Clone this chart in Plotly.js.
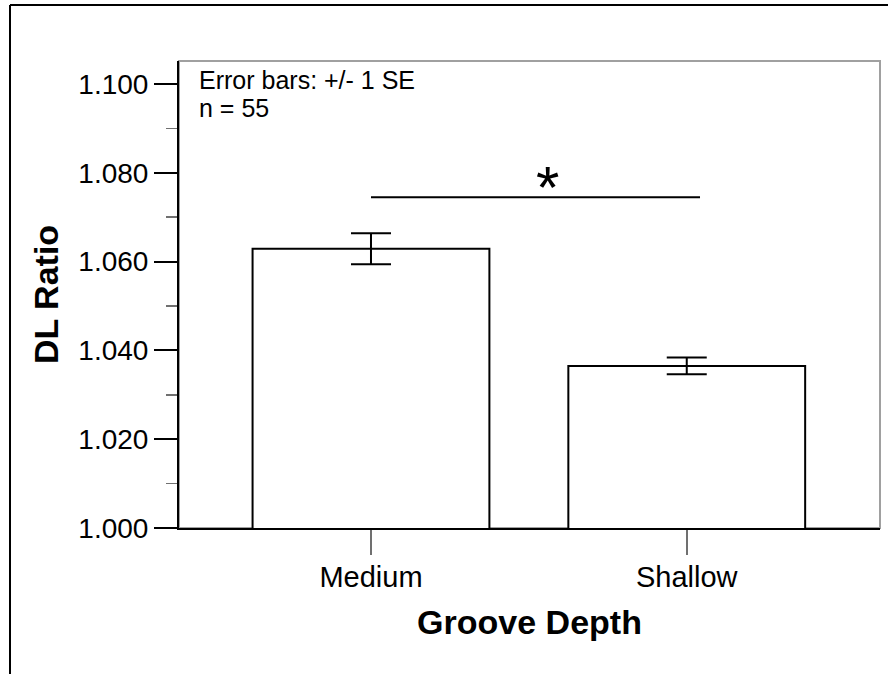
<!DOCTYPE html>
<html>
<head>
<meta charset="utf-8">
<script src="https://cdn.plot.ly/plotly-3.0.1.min.js"></script>
<style>
html,body{margin:0;padding:0;background:#fff;}
#chart{width:888px;height:674px;}
</style>
</head>
<body>
<div id="chart"></div>
<script>
// ---- data ----
const categories = ["Medium", "Shallow"];
const meanRatio = [1.0629, 1.0365];
const seRatio = [0.0035, 0.0019];
const sampleSize = 55;
const sigLineY = 1.0745;          // significance bracket level
const yTickValues = [1.000, 1.020, 1.040, 1.060, 1.080, 1.100];
const yTickLabels = ["1.000", "1.020", "1.040", "1.060", "1.080", "1.100"];

const FONT = "Liberation Sans, Arial, Helvetica, sans-serif";

const trace = {
  type: "bar",
  x: categories,
  y: meanRatio,
  width: 0.75,
  marker: {color: "#ffffff", line: {color: "#000000", width: 2}},
  error_y: {type: "data", array: seRatio, visible: true, color: "#000000", thickness: 2, width: 20},
  hoverinfo: "x+y"
};

// plot area geometry (for paper-space frame)
const W = 888, H = 674, ml = 179, mr = 8, mt = 61, mb = 146;
const pw = W - ml - mr, ph = H - mt - mb;
const px = v => (v - ml) / pw;
const py = v => (H - mb - v) / ph;

const layout = {
  width: W, height: H,
  margin: {l: ml, r: mr, t: mt, b: mb, pad: 0},
  paper_bgcolor: "#ffffff",
  plot_bgcolor: "#ffffff",
  showlegend: false,
  font: {family: FONT, color: "#000000"},
  xaxis: {
    type: "category",
    range: [-0.608, 1.612],
    showline: true, linecolor: "#000000", linewidth: 2,
    ticks: "outside", ticklen: 25, tickwidth: 2, tickcolor: "#707070",
    ticklabelstandoff: -3,
    tickfont: {family: FONT, size: 29, color: "#000000"},
    showgrid: false, zeroline: false,
    title: {text: "Groove Depth", font: {family: FONT, size: 34, color: "#000000", weight: "bold"}, standoff: 18},
    fixedrange: true
  },
  yaxis: {
    range: [1.0, 1.10517],
    tickvals: yTickValues,
    ticktext: yTickLabels,
    showline: true, linecolor: "#000000", linewidth: 2,
    ticks: "outside", ticklen: 23, tickwidth: 2, tickcolor: "#000000",
    tickfont: {family: FONT, size: 28, color: "#000000"},
    minor: {dtick: 0.01, tick0: 1.0, ticks: "outside", ticklen: 11, tickwidth: 1.5, tickcolor: "#707070"},
    showgrid: false, zeroline: false,
    title: {text: "DL Ratio", font: {family: FONT, size: 34, color: "#000000", weight: "bold"}, standoff: 9},
    fixedrange: true
  },
  shapes: [
    // gray plot frame
    {type: "rect", xref: "paper", yref: "paper", x0: 0, x1: 1, y0: 0, y1: 1,
     line: {color: "#a0a0a0", width: 2}, layer: "below"},
    // outer figure frame (left & top visible)
    {type: "line", xref: "paper", yref: "paper", x0: px(10), x1: px(10), y0: py(5), y1: py(H + 2),
     line: {color: "#000000", width: 2}},
    {type: "line", xref: "paper", yref: "paper", x0: px(10), x1: px(W + 2), y0: py(5), y1: py(5),
     line: {color: "#000000", width: 2}},
    // significance line
    {type: "line", xref: "x", yref: "y", x0: 0, x1: 1.042, y0: sigLineY, y1: sigLineY,
     line: {color: "#000000", width: 2}}
  ],
  annotations: [
    {xref: "paper", yref: "paper", x: px(197), y: py(80), xanchor: "left", yanchor: "middle",
     align: "left", showarrow: false,
     text: "Error bars: +/- 1 SE",
     font: {family: FONT, size: 25, color: "#000000"}},
    {xref: "paper", yref: "paper", x: px(197), y: py(108), xanchor: "left", yanchor: "middle",
     align: "left", showarrow: false,
     text: "n = " + sampleSize,
     font: {family: FONT, size: 25, color: "#000000"}},
    {xref: "x", yref: "y", x: 0.5575, y: sigLineY, xanchor: "center", yanchor: "bottom",
     showarrow: false, text: "*", yshift: -26,
     font: {family: FONT, size: 60, color: "#000000"}}
  ]
};

Plotly.newPlot("chart", [trace], layout, {displayModeBar: false, staticPlot: true});
</script>
</body>
</html>
